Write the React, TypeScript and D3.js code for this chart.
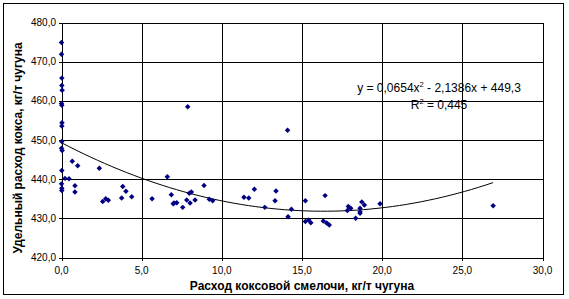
import React from "react";
import * as d3 from "d3";

const xValues: number[] = [
  0, 0, 0.02, 0.02, 0.04, 0, 0.02, 0.03, 0.02, 0.02, 0, 0.04, 0.02, 0, 0.02, 0.02,
  0.22, 0.47, 0.67, 1.01, 0.84, 0.84, 2.36, 2.57, 2.76, 2.92, 3.75, 3.82, 4.02, 4.38,
  5.65, 6.6, 6.85, 6.97, 7.02, 7.19, 7.56, 7.81, 7.87, 7.97, 8.02, 8.1, 8.33, 8.89,
  9.22, 9.43, 11.38, 11.68, 12.03, 12.68, 13.32, 13.38, 14.1, 14.13, 14.34, 15.21,
  15.21, 15.42, 15.55, 16.33, 16.44, 16.54, 16.7, 17.83, 17.89, 18.04, 18.35, 18.62,
  18.62, 18.62, 18.73, 18.89, 19.87, 26.92,
];
const yValues: number[] = [
  474.9, 471.9, 465.8, 463.9, 462.7, 459.3, 458.9, 454.4, 453.6, 449.6, 447.9, 447.3,
  442.2, 438.8, 437.7, 437.1, 440.2, 440.1, 444.6, 443.4, 438.3, 436.7, 442.8, 434.3,
  435.0, 434.6, 435.2, 438.1, 436.9, 435.5, 435.0, 440.6, 436.0, 433.7, 433.9, 434.0,
  432.8, 434.7, 458.5, 436.4, 433.9, 436.7, 434.7, 438.4, 434.9, 434.5, 435.4, 435.2,
  437.4, 432.8, 434.5, 437.0, 452.5, 430.4, 432.3, 434.5, 429.2, 429.6, 428.9, 429.3,
  435.8, 428.8, 428.3, 432.0, 433.0, 432.6, 430.0, 432.6, 431.7, 431.3, 434.2, 433.4,
  433.7, 433.2,
];
const xTicks: number[] = [0, 5, 10, 15, 20, 25, 30];
const yTicks: number[] = [420, 430, 440, 450, 460, 470, 480];
const trendCoef: number[] = [449.3, -2.1386, 0.0654];
const trendRange: number[] = [0, 26.92];
const equationText = "y = 0,0654x";
const equationRest = " - 2,1386x + 449,3";
const r2Value = "0,445";
const xTitle = "Расход коксовой смелочи, кг/т чугуна";
const yTitle = "Удельный расход кокса, кг/т чугуна";

const fmt = (v: number) => v.toFixed(1).replace(".", ",");
const FONT = "'Liberation Sans', Arial, sans-serif";

export default function App() {
  const W = 569;
  const H = 299;
  const x = d3.scaleLinear().domain([0, 30]).range([61.5, 542.5]);
  const y = d3.scaleLinear().domain([420, 480]).range([257.5, 22.5]);

  const trendPts: [number, number][] = [];
  const n = 60;
  for (let i = 0; i <= n; i++) {
    const xv = trendRange[0] + ((trendRange[1] - trendRange[0]) * i) / n;
    const yv = trendCoef[0] + trendCoef[1] * xv + trendCoef[2] * xv * xv;
    trendPts.push([xv, yv]);
  }
  const line = d3
    .line<[number, number]>()
    .x((d) => x(d[0]))
    .y((d) => y(d[1]));

  const marker = d3.symbol().type(d3.symbolSquare).size(15)() as string;

  return (
    <svg
      width={W}
      height={H}
      style={{ position: "absolute", left: 0, top: 0, background: "#fff" }}
      fontFamily={FONT}
    >
      <rect x={3.5} y={3.5} width={560} height={291} fill="#fff" stroke="#000" strokeWidth={1} />
      <g shapeRendering="crispEdges" stroke="#000" strokeWidth={1}>
        {yTicks.map((t) => (
          <line key={"hy" + t} x1={x(0)} x2={x(30)} y1={Math.round(y(t)) + 0.5} y2={Math.round(y(t)) + 0.5} />
        ))}
        {xTicks.map((t) => (
          <line key={"vx" + t} x1={Math.round(x(t)) + 0.5} x2={Math.round(x(t)) + 0.5} y1={y(480)} y2={y(420)} />
        ))}
        {yTicks.map((t) => (
          <line key={"ty" + t} x1={x(0) - 3} x2={x(0)} y1={Math.round(y(t)) + 0.5} y2={Math.round(y(t)) + 0.5} />
        ))}
        {xTicks.map((t) => (
          <line key={"tx" + t} x1={Math.round(x(t)) + 0.5} x2={Math.round(x(t)) + 0.5} y1={y(420)} y2={y(420) + 3} />
        ))}
      </g>
      <g fontSize={10} fill="#000">
        {yTicks.map((t) => (
          <text key={"ly" + t} x={56} y={y(t) + 3.5} textAnchor="end">
            {fmt(t)}
          </text>
        ))}
        {xTicks.map((t) => (
          <text key={"lx" + t} x={x(t)} y={274} textAnchor="middle">
            {fmt(t)}
          </text>
        ))}
      </g>
      <path d={line(trendPts) || ""} fill="none" stroke="#000" strokeWidth={1} />
      <g fill="#000080">
        {xValues.map((xv, i) => (
          <path
            key={"p" + i}
            d={marker}
            transform={`translate(${x(xv)},${y(yValues[i])}) rotate(45)`}
          />
        ))}
      </g>
      <text x={439} y={92} fontSize={12} textAnchor="middle" fill="#000">
        {equationText}
        <tspan dy={-5} fontSize={7.5}>2</tspan>
        <tspan dy={5}>{equationRest}</tspan>
      </text>
      <text x={439} y={109} fontSize={12} textAnchor="middle" fill="#000">
        R<tspan dy={-5} fontSize={7.5}>2</tspan>
        <tspan dy={5}>{" = " + r2Value}</tspan>
      </text>
      <text x={302} y={290} fontSize={12} fontWeight="bold" textAnchor="middle" fill="#000">
        {xTitle}
      </text>
      <text
        transform={`translate(22,${(y(420) + y(480)) / 2 + 8}) rotate(-90)`}
        fontSize={12}
        fontWeight="bold"
        textAnchor="middle"
        fill="#000"
      >
        {yTitle}
      </text>
    </svg>
  );
}
